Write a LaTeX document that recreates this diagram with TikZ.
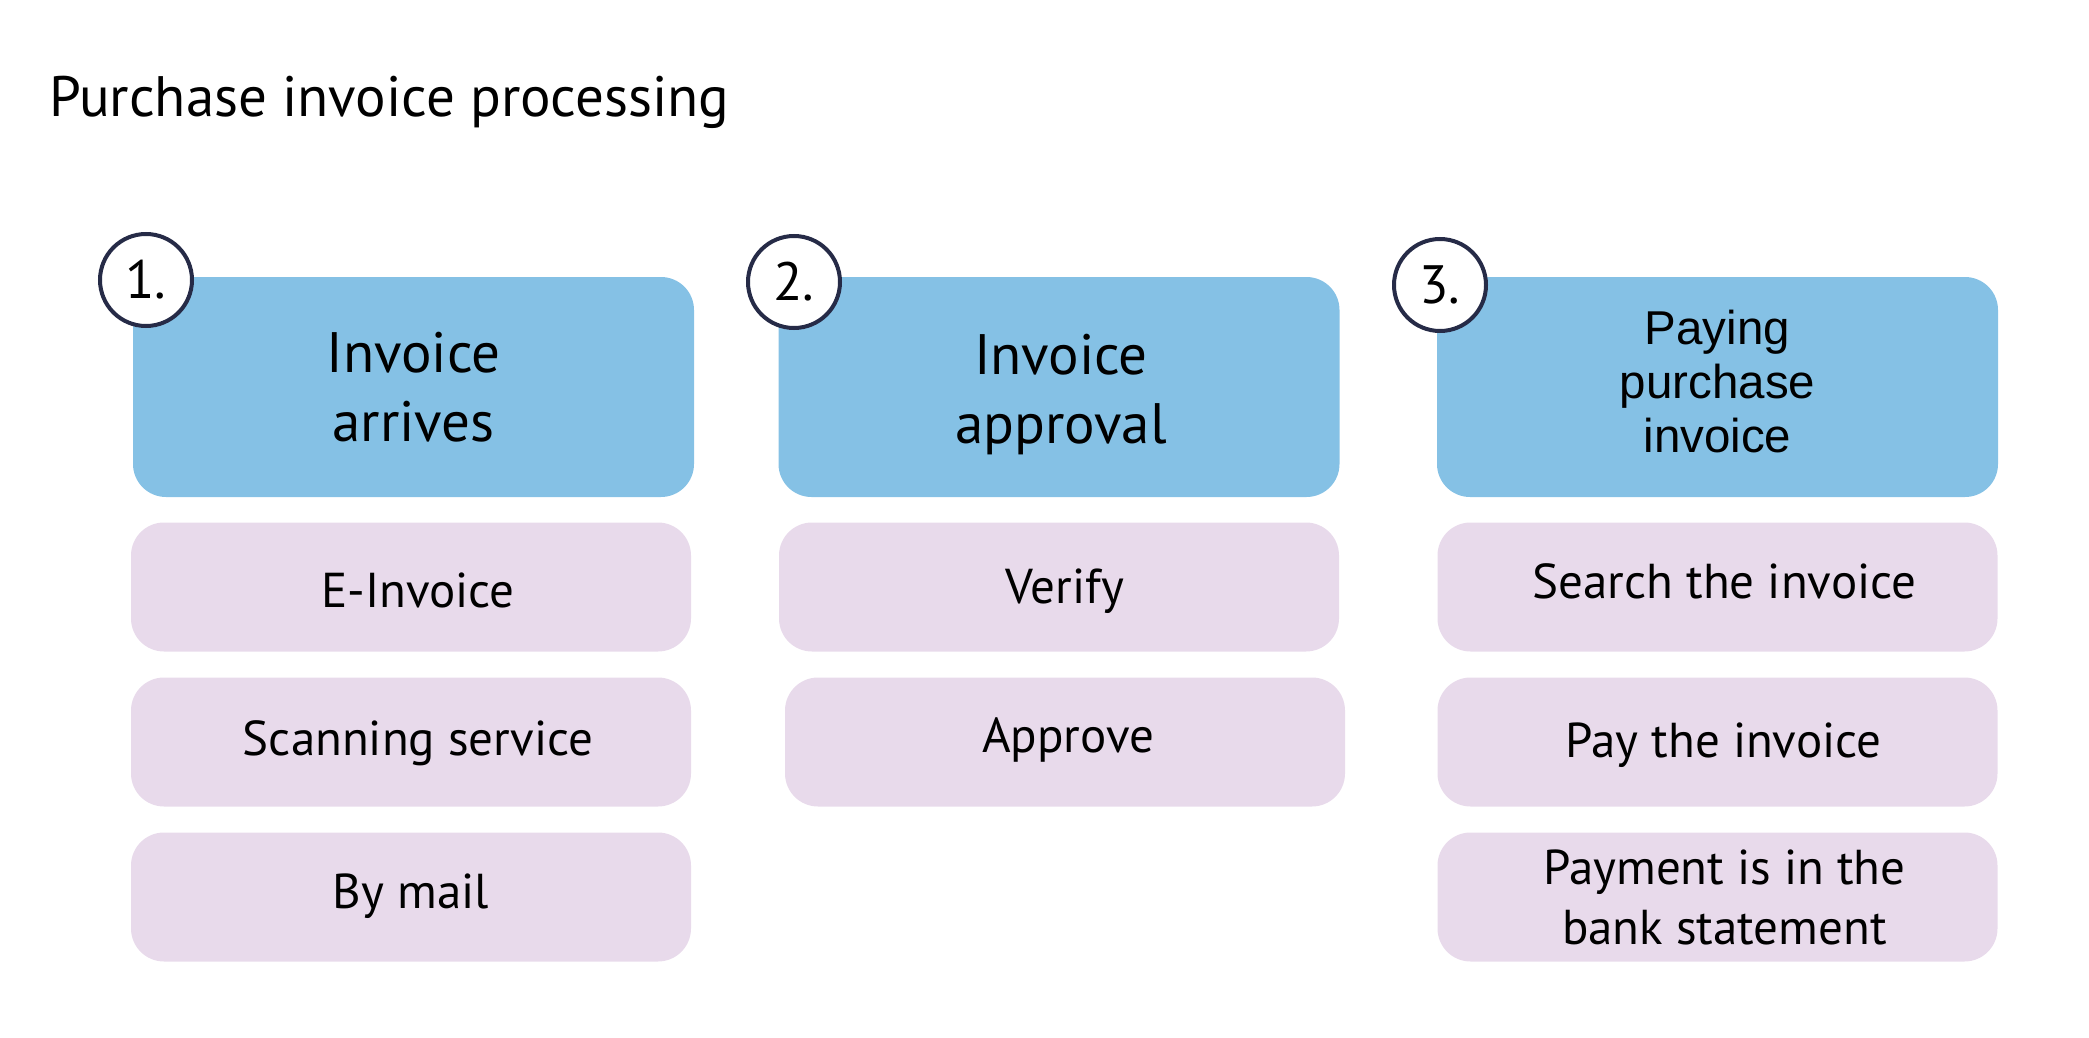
\documentclass[tikz,border=0pt]{standalone}
\usepackage{fontspec}
\setmainfont{PT Sans}
\newfontfamily\arialfont{Liberation Sans}
\definecolor{stepblue}{HTML}{85C1E5}
\definecolor{steppink}{HTML}{E8DAEB}
\definecolor{navy}{HTML}{262B47}
\begin{document}
\begin{tikzpicture}[x=1pt,y=-1pt,
  headfont/.style={font=\fontsize{57}{69}\selectfont},
  head/.style={rectangle, rounded corners=33pt, fill=stepblue, minimum width=561pt, minimum height=220pt, inner sep=0pt, align=center, headfont},
  headtext/.style={inner sep=0pt, align=center, headfont},
  item/.style={rectangle, rounded corners=33pt, fill=steppink, minimum width=560pt, minimum height=129pt, inner sep=0pt, font=\fontsize{49}{60}\selectfont},
  itemtext/.style={inner sep=0pt, align=center, font=\fontsize{49}{60}\selectfont},
  oneline/.style={text height=#1, text depth=0pt},
  nudge/.style={execute at begin node={\hspace*{#1}}},
  numb/.style={circle, draw=navy, line width=4pt, fill=white, minimum size=92pt, inner sep=0pt, font=\fontsize{54}{54}\selectfont}]
\useasboundingbox (0,0) rectangle (2089,1038);
\node[anchor=base west, inner sep=0pt, font=\fontsize{57}{60}\selectfont] (title) at (49,117) {Purchase invoice processing};

\node[head] (h1) at (413.5,387) {Invoice\\arrives};
\node[head] (h2) at (1059,387) {};
\node[headtext] (h2t) at ([shift={(2,8)}]h2.center) {Invoice\\approval};
\node[head] (h3) at (1717.5,387) {};
\node[headtext, font=\arialfont\fontsize{47.5}{54}\selectfont] (h3t) at ([shift={(0,-5)}]h3.center) {Paying\\purchase\\invoice};

\node[item, oneline=40pt, nudge=14pt] (a1) at (411,587) {E-Invoice};
\node[item, oneline=26pt, nudge=14pt] (a2) at (411,742) {Scanning service};
\node[item, oneline=22pt] (a3) at (411,897) {By mail};

\node[item, oneline=33pt, nudge=12pt] (b1) at (1059,587) {Verify};
\node[item, oneline=20pt, nudge=6pt] (b2) at (1065,742) {Approve};

\node[item, oneline=22pt, nudge=14pt] (c1) at (1717.5,587) {Search the invoice};
\node[item, oneline=30pt, nudge=12pt] (c2) at (1717.5,742) {Pay the invoice};
\node[item] (c3) at (1717.5,897) {};
\node[itemtext] (c3t) at ([xshift=7pt]c3.center) {Payment is in the\\bank statement};

\node[numb] (n1) at (146,280) {1.};
\node[numb] (n2) at (794,282) {2.};
\node[numb] (n3) at (1440,285) {3.};
\end{tikzpicture}
\end{document}
